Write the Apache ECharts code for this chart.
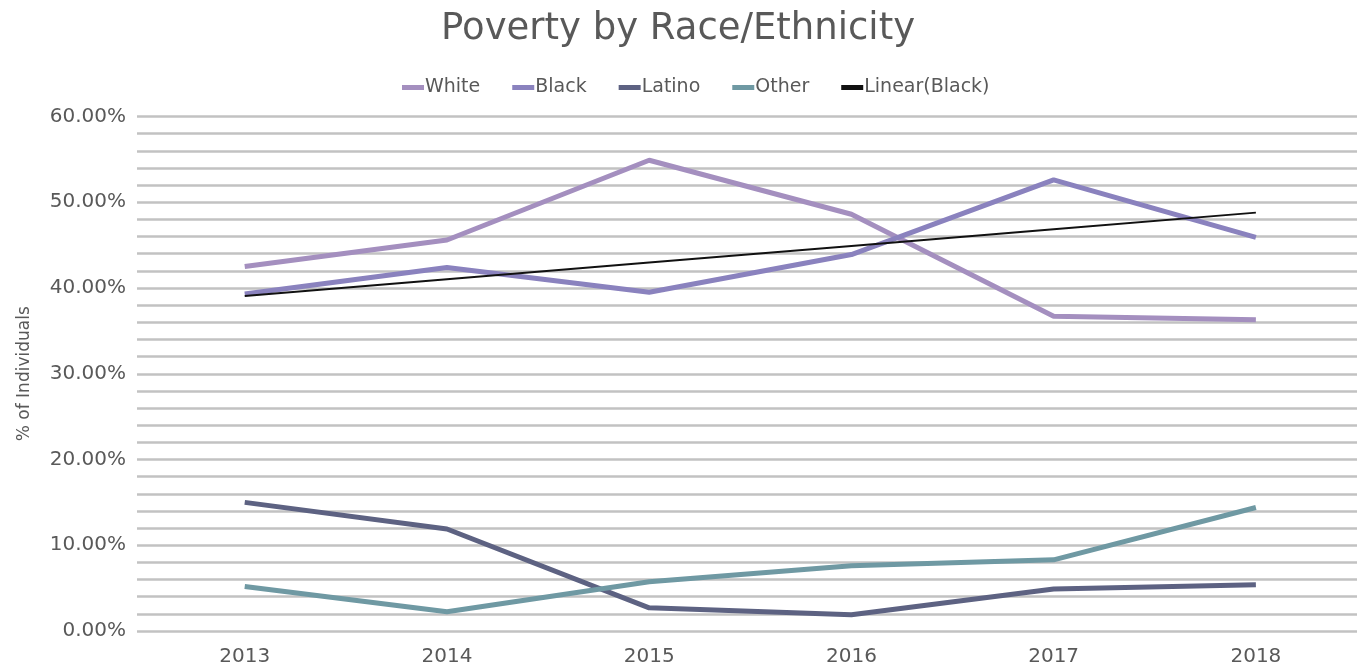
<!DOCTYPE html>
<html>
<head>
<meta charset="utf-8">
<script src="https://cdn.jsdelivr.net/npm/echarts@6/dist/echarts.min.js"></script>
<style>html,body{margin:0;padding:0;background:#fff}#c{width:1357px;height:668px}</style>
</head>
<body>
<div id="c"></div>
<script>
const years = ['2013', '2014', '2015', '2016', '2017', '2018'];
const white = [42.5, 45.6, 54.9, 48.6, 36.7, 36.3];
const black = [39.3, 42.4, 39.5, 43.9, 52.6, 45.9];
const latino = [15.0, 11.9, 2.7, 1.9, 4.9, 5.4];
const other = [5.2, 2.25, 5.75, 7.6, 8.3, 14.4];

// Linear trendline of Black (least squares)
function linearTrend(vals) {
  const n = vals.length;
  let sx = 0, sy = 0, sxx = 0, sxy = 0;
  vals.forEach((v, i) => { sx += i; sy += v; sxx += i * i; sxy += i * v; });
  const b = (n * sxy - sx * sy) / (n * sxx - sx * sx);
  const a = (sy - b * sx) / n;
  return vals.map((_, i) => +(a + b * i).toFixed(3));
}
const blackTrend = linearTrend(black);

const FONT = 'DejaVu Sans';
const TXT = '#595959';
const chart = echarts.init(document.getElementById('c'));
chart.setOption({
  animation: false,
  backgroundColor: '#fff',
  title: {
    text: 'Poverty by Race/Ethnicity',
    left: 436, top: 6,
    textStyle: { fontFamily: FONT, fontSize: 37, fontWeight: 'normal', color: TXT }
  },
  legend: {
    top: 73, left: 397,
    icon: 'rect', itemWidth: 22, itemHeight: 5, itemGap: 32,
    textStyle: { fontFamily: FONT, fontSize: 19, color: TXT, padding: [0, 0, 0, -4] },
    data: ['White', 'Black', 'Latino', 'Other', 'Linear(Black)']
  },
  grid: [
    { left: 137, right: 0, top: 116.5, height: 514.5 },
    { left: 143.6, right: -3.6, top: 116.5, height: 514.5 }
  ],
  xAxis: [
    { gridIndex: 0, type: 'category', data: years, show: false },
    {
      gridIndex: 1, type: 'category', data: years, boundaryGap: true,
      axisLine: { show: false }, axisTick: { show: false },
      axisLabel: { fontFamily: FONT, fontSize: 20, color: TXT, margin: 16 }
    }
  ],
  yAxis: [
    {
      gridIndex: 0, type: 'value', min: 0, max: 60, interval: 2,
      name: '% of Individuals', nameLocation: 'middle', nameGap: 104, nameRotate: 90,
      nameTextStyle: { fontFamily: FONT, fontSize: 17, color: TXT },
      axisLine: { show: false }, axisTick: { show: false },
      axisLabel: {
        fontFamily: FONT, fontSize: 20, color: TXT, margin: 11,
        formatter: v => (Math.abs(v % 10) < 1e-6 ? v.toFixed(2) + '%' : '')
      },
      splitLine: { show: true, lineStyle: { color: '#c2c2c2', width: 2.5 } }
    },
    { gridIndex: 1, type: 'value', min: 0, max: 60, show: false, splitLine: { show: false } }
  ],
  series: [
    { name: 'White', type: 'line', xAxisIndex: 1, yAxisIndex: 1, data: white, symbol: 'none',
      lineStyle: { width: 5, color: '#a48fbf' }, itemStyle: { color: '#a48fbf' } },
    { name: 'Black', type: 'line', xAxisIndex: 1, yAxisIndex: 1, data: black, symbol: 'none',
      lineStyle: { width: 5, color: '#8a82be' }, itemStyle: { color: '#8a82be' } },
    { name: 'Latino', type: 'line', xAxisIndex: 1, yAxisIndex: 1, data: latino, symbol: 'none',
      lineStyle: { width: 5, color: '#5d6282' }, itemStyle: { color: '#5d6282' } },
    { name: 'Other', type: 'line', xAxisIndex: 1, yAxisIndex: 1, data: other, symbol: 'none',
      lineStyle: { width: 5, color: '#6f99a3' }, itemStyle: { color: '#6f99a3' } },
    { name: 'Linear(Black)', type: 'line', xAxisIndex: 1, yAxisIndex: 1, data: blackTrend, symbol: 'none',
      lineStyle: { width: 2, color: '#111' }, itemStyle: { color: '#111' }, z: 3 }
  ]
});
</script>
</body>
</html>
